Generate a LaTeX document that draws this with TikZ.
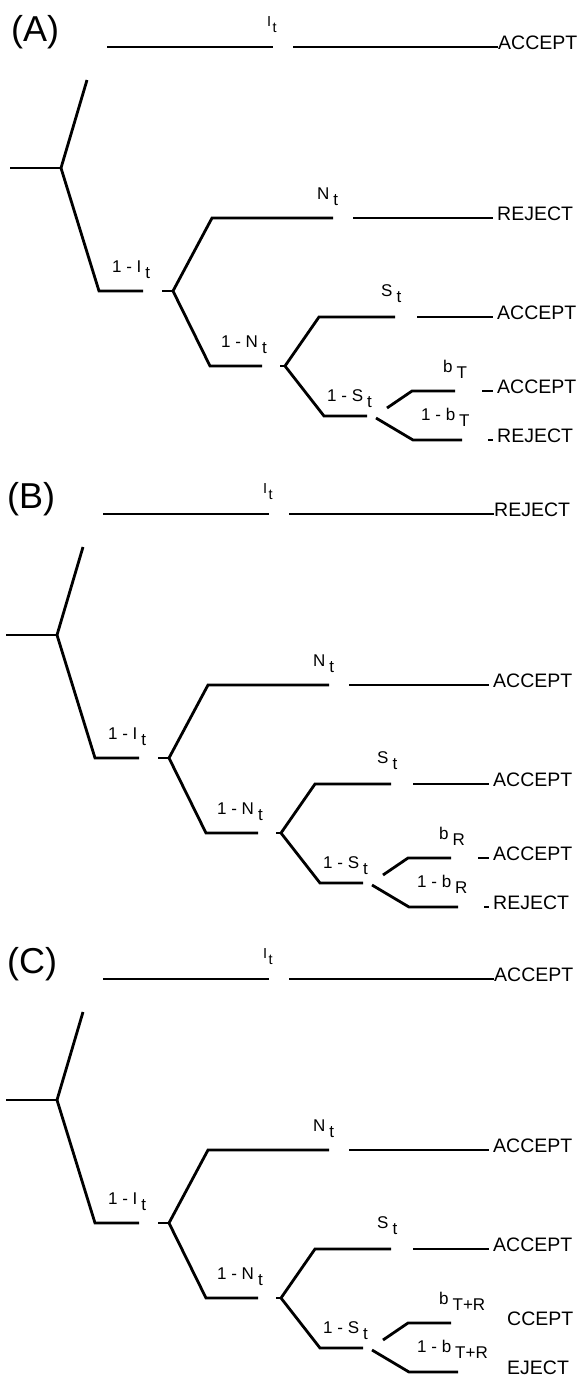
\documentclass[tikz,border=0pt]{standalone}
\usepackage{fontspec}
\setmainfont{Liberation Sans}

\tikzset{
  branch/.style={line width=2.8pt},
  outcome/.style={anchor=base west, inner sep=0pt, font=\fontsize{19.5}{20}\selectfont},
  prob/.style={anchor=base west, inner sep=0pt, font=\fontsize{17}{18}\selectfont},
  toplab/.style={anchor=base west, inner sep=0pt, font=\fontsize{14.5}{15}\selectfont},
  panellab/.style={anchor=base west, inner sep=0pt, font=\fontsize{36}{38}\selectfont},
}

% probability label with a lowered index
\newcommand\lowsub[2]{#1\hspace{4pt}\raisebox{-6pt}{#2}}

% common part of one decision tree
% #1 name prefix, #2 panel letter, #3 top outcome, #4 N outcome, #5 S outcome, #6 b index
\newcommand\treebody[6]{%
  \coordinate (#1t1) at (107,47);
  \coordinate (#1t2) at (273,47);
  \coordinate (#1t3) at (293,47);
  \coordinate (#1t4) at (498,47);
  \coordinate (#1r0) at (87,80);
  \coordinate (#1j0) at (61,168);
  \coordinate (#1r1) at (10,168);
  \coordinate (#1a1) at (99,291);
  \coordinate (#1a2) at (143,291);
  \coordinate (#1a3) at (162,291);
  \coordinate (#1j1) at (173,291);
  \coordinate (#1n1) at (212,218);
  \coordinate (#1n2) at (333,218);
  \coordinate (#1n3) at (353,218);
  \coordinate (#1n4) at (493,218);
  \coordinate (#1m1) at (210,366);
  \coordinate (#1m2) at (262,366);
  \coordinate (#1m3) at (280,366);
  \coordinate (#1j2) at (285,366);
  \coordinate (#1s1) at (319,317);
  \coordinate (#1s2) at (395,317);
  \coordinate (#1s3) at (417,317);
  \coordinate (#1s4) at (493,317);
  \coordinate (#1q1) at (324,416);
  \coordinate (#1q2) at (367,416);
  \coordinate (#1j3) at (376,418);
  \coordinate (#1u0) at (387,408);
  \coordinate (#1u1) at (412,391);
  \coordinate (#1u2) at (455,391);
  \coordinate (#1l1) at (413,440);
  \coordinate (#1l2) at (462,440);
  % branches
  \draw[branch] (#1t1) -- (#1t2);
  \draw[branch] (#1t3) -- (#1t4);
  \draw[branch] (#1r1) -- (#1j0);
  \draw[branch] (#1r0) -- (#1j0) -- (#1a1) -- (#1a2);
  \draw[branch] (#1a3) -- (#1j1);
  \draw[branch] (#1n2) -- (#1n1) -- (#1j1) -- (#1m1) -- (#1m2);
  \draw[branch] (#1n3) -- (#1n4);
  \draw[branch] (#1m3) -- (#1j2);
  \draw[branch] (#1s2) -- (#1s1) -- (#1j2) -- (#1q1) -- (#1q2);
  \draw[branch] (#1s3) -- (#1s4);
  \draw[branch] (#1u0) -- (#1u1) -- (#1u2);
  \draw[branch] (#1j3) -- (#1l1) -- (#1l2);
  % labels
  \node[panellab] (#1name) at (11,41) {(#2)};
  \node[toplab] (#1pI) at (267,26) {I\hspace{1.5pt}\raisebox{-6pt}{t}};
  \node[prob] (#1pnI) at (112,272) {\lowsub{1 - I}{t}};
  \node[prob] (#1pN) at (317,199) {\lowsub{N}{t}};
  \node[prob] (#1pnN) at (221,347) {\lowsub{1 - N}{t}};
  \node[prob] (#1pS) at (381,296) {\lowsub{S}{t}};
  \node[prob] (#1pnS) at (327,401) {\lowsub{1 - S}{t}};
  \node[prob] (#1pb) at (443,372) {\lowsub{b}{#6}};
  \node[prob] (#1pnb) at (421,420) {\lowsub{1 - b}{#6}};
  \node[outcome] (#1o1) at (498,49) {#3};
  \node[outcome] (#1o2) at (497,220) {#4};
  \node[outcome] (#1o3) at (497,319) {#5};
}

% short stubs in front of the two lowest outcomes
\newcommand\stubs[1]{%
  \coordinate (#1u3) at (482,391);
  \coordinate (#1u4) at (493,391);
  \coordinate (#1l3) at (488,440);
  \coordinate (#1l4) at (493,440);
  \draw[branch] (#1u3) -- (#1u4);
  \draw[branch] (#1l3) -- (#1l4);
}

\begin{document}
\begin{tikzpicture}[x=1pt,y=-1pt]
  \fill[white] (0,0) rectangle (580,1377);
  \useasboundingbox (0,0) rectangle (580,1377);

  % (A)
  \begin{scope}
    \treebody{A}{A}{ACCEPT}{REJECT}{ACCEPT}{T}
    \stubs{A}
    \node[outcome] (Ao4) at (497,393) {ACCEPT};
    \node[outcome] (Ao5) at (497,442) {REJECT};
  \end{scope}

  % (B)
  \begin{scope}[shift={(-4,467)}]
    \treebody{B}{B}{REJECT}{ACCEPT}{ACCEPT}{R}
    \stubs{B}
    \node[outcome] (Bo4) at (497,393) {ACCEPT};
    \node[outcome] (Bo5) at (497,442) {REJECT};
  \end{scope}

  % (C)
  \begin{scope}[shift={(-4,932)}]
    \treebody{C}{C}{ACCEPT}{ACCEPT}{ACCEPT}{T+R}
    \node[outcome] (Co4) at (511,393) {CCEPT};
    \node[outcome] (Co5) at (511,442) {EJECT};
  \end{scope}
\end{tikzpicture}
\end{document}
